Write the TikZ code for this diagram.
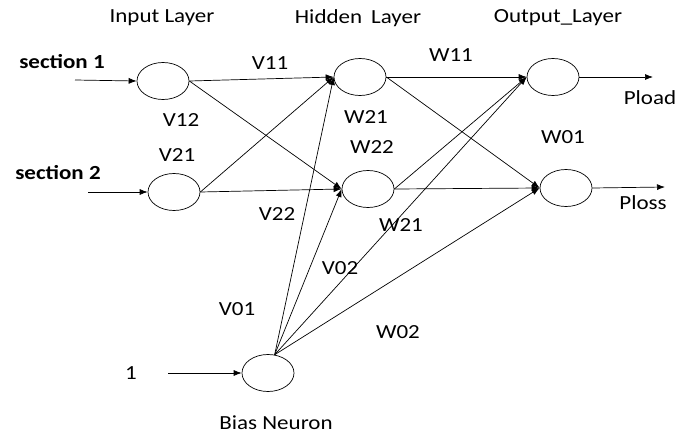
\documentclass[tikz,border=0pt]{standalone}
\usepackage{fontspec}
\setmainfont{Carlito}
\usetikzlibrary{arrows.meta,positioning,shapes.geometric}

\begin{document}
\begin{tikzpicture}[
      x=1pt,y=-1pt,
      neuron/.style={draw,ellipse,inner sep=0pt,minimum width=52pt,minimum height=37pt,line width=0.7pt},
      lbl/.style={font=\fontsize{20}{24}\selectfont,inner sep=0pt,xscale=1.15,transform shape},
      arrow/.style={-{Latex[length=8pt,width=6pt]},line width=0.7pt}
    ]
      \useasboundingbox (0,0) rectangle (691,434);
      % layer titles
      \node[lbl] (tin)  at (162,18) {Input Layer};
      \node[lbl] (thid) at (358,18) {Hidden\, Layer};
      \node[lbl] (tout) at (558,18) {Output\_Layer};
      % neurons
      \node[neuron] (i1) at (163,81) {};
      \node[neuron] (i2) at (174,192) {};
      \node[neuron] (h1) at (360,77) {};
      \node[neuron] (h2) at (368,189) {};
      \node[neuron] (o1) at (553,77) {};
      \node[neuron] (o2) at (566,188) {};
      \node[neuron] (bias) at (268,373) {};
      % free ends
      \coordinate (s1) at (75,80);
      \coordinate (s2) at (88,192);
      \coordinate (one) at (168,373);
      \coordinate (pload) at (653,77);
      \coordinate (ploss) at (665,187);
      % inputs and outputs
      \node[lbl,font=\fontsize{20}{24}\selectfont\bfseries] (sec1) at (62,62) {section 1};
      \node[lbl,font=\fontsize{20}{24}\selectfont\bfseries] (sec2) at (58,173) {section 2};
      \node[lbl] (lone) at (131,373) {1};
      \node[lbl] (lpload) at (650,98) {Pload};
      \node[lbl] (lploss) at (643,203) {Ploss};
      \node[lbl] (lbias) at (276,423) {Bias Neuron};
      \draw[arrow] (s1) -- (i1.west);
      \draw[arrow] (s2) -- (i2.west);
      \draw[arrow] (one) -- (bias.west);
      \draw[arrow] (o1.east) -- (pload);
      \draw[arrow] (o2.east) -- (ploss);
      % weights input -> hidden
      \draw[arrow] (i1.east) -- (h1.west);
      \draw[arrow] (i1.east) -- (h2.west);
      \draw[arrow] (i2.east) -- (h1.west);
      \draw[arrow] (i2.east) -- (h2.west);
      % weights hidden -> output
      \draw[arrow] (h1.east) -- (o1.west);
      \draw[arrow] (h1.east) -- (o2.west);
      \draw[arrow] (h2.east) -- (o1.west);
      \draw[arrow] (h2.east) -- (o2.west);
      % bias
      \draw[arrow] (bias.70) -- (h1.west);
      \draw[arrow] (bias.70) -- (h2.west);
      \draw[arrow] (bias.70) -- (o1.west);
      \draw[arrow] (bias.70) -- (o2.west);
      % weight labels
      \node[lbl] (v11) at (270,63) {V11};
      \node[lbl] (v12) at (181,120) {V12};
      \node[lbl] (v21) at (177,155) {V21};
      \node[lbl] (v22) at (277,214) {V22};
      \node[lbl] (v02) at (340,268) {V02};
      \node[lbl] (v01) at (237,309) {V01};
      \node[lbl] (w11) at (451,55) {W11};
      \node[lbl] (w21a) at (366,117) {W21};
      \node[lbl] (w22) at (372,147) {W22};
      \node[lbl] (w01) at (563,137) {W01};
      \node[lbl] (w21b) at (401,225) {W21};
      \node[lbl] (w02) at (398,332) {W02};
    \end{tikzpicture}
\end{document}
